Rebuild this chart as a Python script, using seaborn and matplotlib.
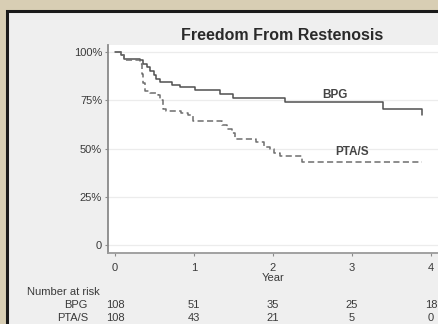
import numpy as np
import pandas as pd
import matplotlib
matplotlib.use("Agg")
import matplotlib.pyplot as plt
import seaborn as sns
from matplotlib.patches import Rectangle

# Kaplan-Meier steps (year, freedom from restenosis)
bpg_time = [0, 0.07, 0.12, 0.32, 0.36, 0.40, 0.44, 0.49, 0.52, 0.57, 0.72, 0.82,
            1.01, 1.33, 1.49, 2.15, 3.39, 3.88]
bpg_surv = [1.0, 0.985, 0.967, 0.959, 0.941, 0.924, 0.903, 0.881, 0.864, 0.846,
            0.832, 0.82, 0.803, 0.786, 0.765, 0.743, 0.705, 0.674]

pta_time = [0, 0.07, 0.12, 0.31, 0.34, 0.36, 0.38, 0.44, 0.54, 0.57, 0.61, 0.65,
            0.84, 0.92, 0.99, 1.35, 1.42, 1.48, 1.52, 1.78, 1.88, 1.96, 2.01,
            2.09, 2.37, 3.88]
pta_surv = [1.0, 0.985, 0.96, 0.94, 0.89, 0.84, 0.80, 0.79, 0.777, 0.751, 0.708,
            0.697, 0.686, 0.674, 0.644, 0.625, 0.60, 0.582, 0.55, 0.535, 0.51,
            0.50, 0.475, 0.464, 0.43, 0.43]

groups = ["BPG", "PTA/S"]
year_ticks = [0, 1, 2, 3, 4]
pct_ticks = [0, 0.25, 0.5, 0.75, 1.0]
pct_labels = ["0", "25%", "50%", "75%", "100%"]
at_risk_bpg = [108, 51, 35, 25, 18]
at_risk_pta = [108, 43, 21, 5, 0]

df = pd.concat([
    pd.DataFrame({"Year": bpg_time, "surv": bpg_surv, "group": "BPG"}),
    pd.DataFrame({"Year": pta_time, "surv": pta_surv, "group": "PTA/S"}),
])

sns.set_style("white")
plt.rcParams["font.family"] = ["Liberation Sans", "DejaVu Sans"]

fig = plt.figure(figsize=(4.38, 3.24), dpi=100, facecolor="#d8ceb4")
# slide frame
fig.patches.append(Rectangle((7 / 438, -0.1), 1.2, 1 - 11 / 324 + 0.1,
                             transform=fig.transFigure, facecolor="#efefef",
                             edgecolor="#1a1a1a", linewidth=2.2, zorder=-5))

ax = fig.add_axes([108.3 / 438, 1 - 253 / 324, 1 - 108.3 / 438, (253 - 45) / 324])
ax.set_facecolor("white")

sns.lineplot(data=df, x="Year", y="surv", hue="group", style="group",
             palette={"BPG": "#505050", "PTA/S": "#6e6e6e"},
             dashes={"BPG": "", "PTA/S": (4, 2.2)},
             estimator=None, drawstyle="steps-post", linewidth=1.1,
             legend=False, ax=ax)

ax.set_xlim(-0.085, (438 - 115) / 79)
ax.set_ylim(-0.0415, 1.038)
ax.set_xticks(year_ticks)
ax.set_yticks(pct_ticks)
ax.set_yticklabels(pct_labels)
ax.yaxis.grid(True, color="#ececec", linewidth=0.9)
ax.set_axisbelow(True)
ax.set_ylabel("")
ax.set_xlabel("Year", fontsize=8, color="#3a3a3a", labelpad=0)

for s in ["top", "right"]:
    ax.spines[s].set_visible(False)
ax.spines["left"].set_color("#8a8a8a")
ax.spines["left"].set_linewidth(1.3)
ax.spines["bottom"].set_color("#9a9a9a")
ax.spines["bottom"].set_linewidth(1.3)
ax.tick_params(axis="both", direction="out", length=2.5, width=0.8,
               color="#8a8a8a", labelsize=8, labelcolor="#3a3a3a",
               bottom=True, left=True)
ax.tick_params(axis="y", pad=2.0)
ax.tick_params(axis="x", pad=4.5)

ax.text(2.78, 0.78, "BPG", ha="center", va="center", fontsize=8.5,
        fontweight="bold", color="#444444")
ax.text(3.0, 0.484, "PTA/S", ha="center", va="center", fontsize=8.5,
        fontweight="bold", color="#444444")

fig.text(282 / 438, 1 - 35 / 324, "Freedom From Restenosis", ha="center",
         va="center", fontsize=11.5, fontweight="bold", color="#2a2a2a")

# number at risk table
tr = ax.get_xaxis_transform()
rows_y = [(253 - 305) / 208, (253 - 317.7) / 208]
fig.text(27 / 438, 1 - 291.7 / 324, "Number at risk", ha="left", va="center",
         fontsize=8, color="#3a3a3a")
for yy, name, counts in zip(rows_y, groups, [at_risk_bpg, at_risk_pta]):
    ax.text(-0.342, yy, name, transform=tr, ha="right", va="center",
            fontsize=8, color="#3a3a3a", clip_on=False)
    for t, c in zip(year_ticks, counts):
        ax.text(t, yy, str(c), transform=tr, ha="center", va="center",
                fontsize=8, color="#3a3a3a", clip_on=False)

fig.savefig("out.png", dpi=100, facecolor=fig.get_facecolor())
